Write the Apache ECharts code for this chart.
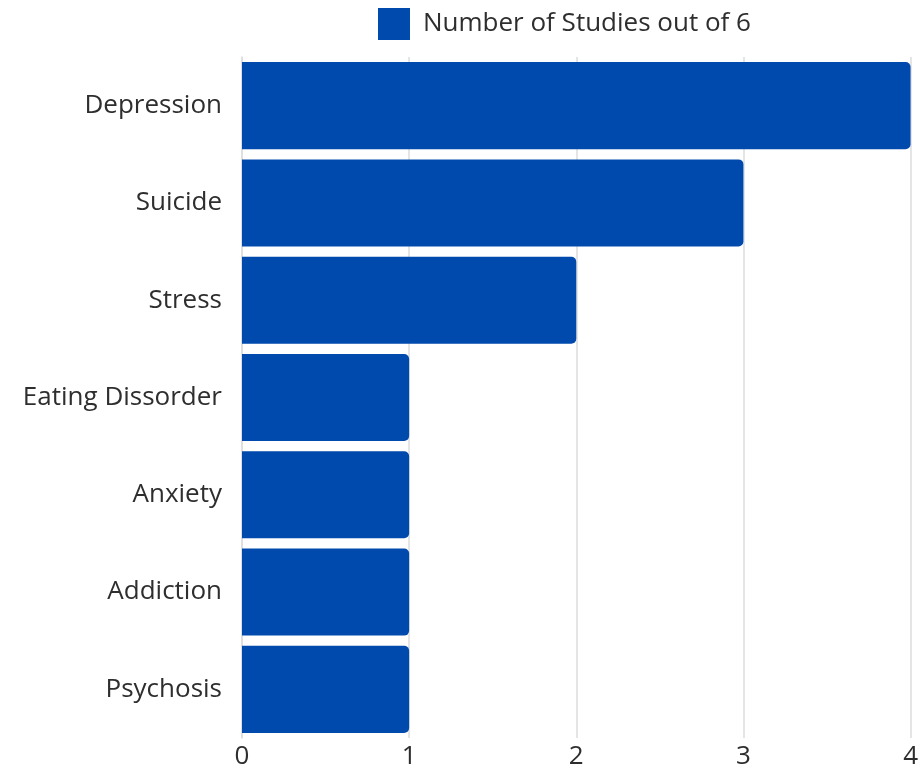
<!DOCTYPE html>
<html>
<head>
<meta charset="utf-8">
<script src="https://cdn.jsdelivr.net/npm/echarts@6/dist/echarts.min.js"></script>
<style>
  html, body { margin: 0; padding: 0; background: #ffffff; }
  #chart { width: 921px; height: 773px; }
</style>
</head>
<body>
<div id="chart"></div>
<script>
// Mental-health outcomes and how many of the 6 studies reported each
const categories = ['Depression', 'Suicide', 'Stress', 'Eating Dissorder', 'Anxiety', 'Addiction', 'Psychosis'];
const studyCounts = [4, 3, 2, 1, 1, 1, 1];
const seriesName = 'Number of Studies out of 6';
const xTicks = [0, 1, 2, 3, 4];

const FONT = '"Open Sans", "Noto Sans", sans-serif';
const TEXT_COLOR = '#2e2e2e';

const chart = echarts.init(document.getElementById('chart'), null, { renderer: 'canvas' });
chart.setOption({
  backgroundColor: '#ffffff',
  animation: false,
  legend: {
    left: 378,
    top: 8,
    padding: 0,
    icon: 'rect',
    itemWidth: 32,
    itemHeight: 32,
    itemGap: 13,
    textStyle: { fontFamily: FONT, fontSize: 26, color: TEXT_COLOR, padding: [0, 0, 0, 8] },
    data: [seriesName]
  },
  grid: { left: 242, right: 7, top: 57, bottom: 35, containLabel: false },
  xAxis: {
    type: 'value',
    min: xTicks[0],
    max: xTicks[xTicks.length - 1],
    interval: 1,
    axisLine: { show: false },
    axisTick: { show: false },
    splitLine: { show: true, lineStyle: { color: '#dcdcdc', width: 1.5 } },
    axisLabel: { fontFamily: FONT, fontSize: 26, color: TEXT_COLOR, margin: 6 }
  },
  yAxis: {
    type: 'category',
    inverse: true,
    data: categories,
    axisLine: { show: true, lineStyle: { color: '#dcdcdc', width: 1.5 } },
    axisTick: { show: false },
    axisLabel: { fontFamily: FONT, fontSize: 26, color: TEXT_COLOR, margin: 20 }
  },
  series: [{
    name: seriesName,
    type: 'bar',
    data: studyCounts,
    barCategoryGap: '10.5%',
    itemStyle: { color: '#004aad', borderRadius: [0, 5, 5, 0] }
  }]
});
</script>
</body>
</html>
